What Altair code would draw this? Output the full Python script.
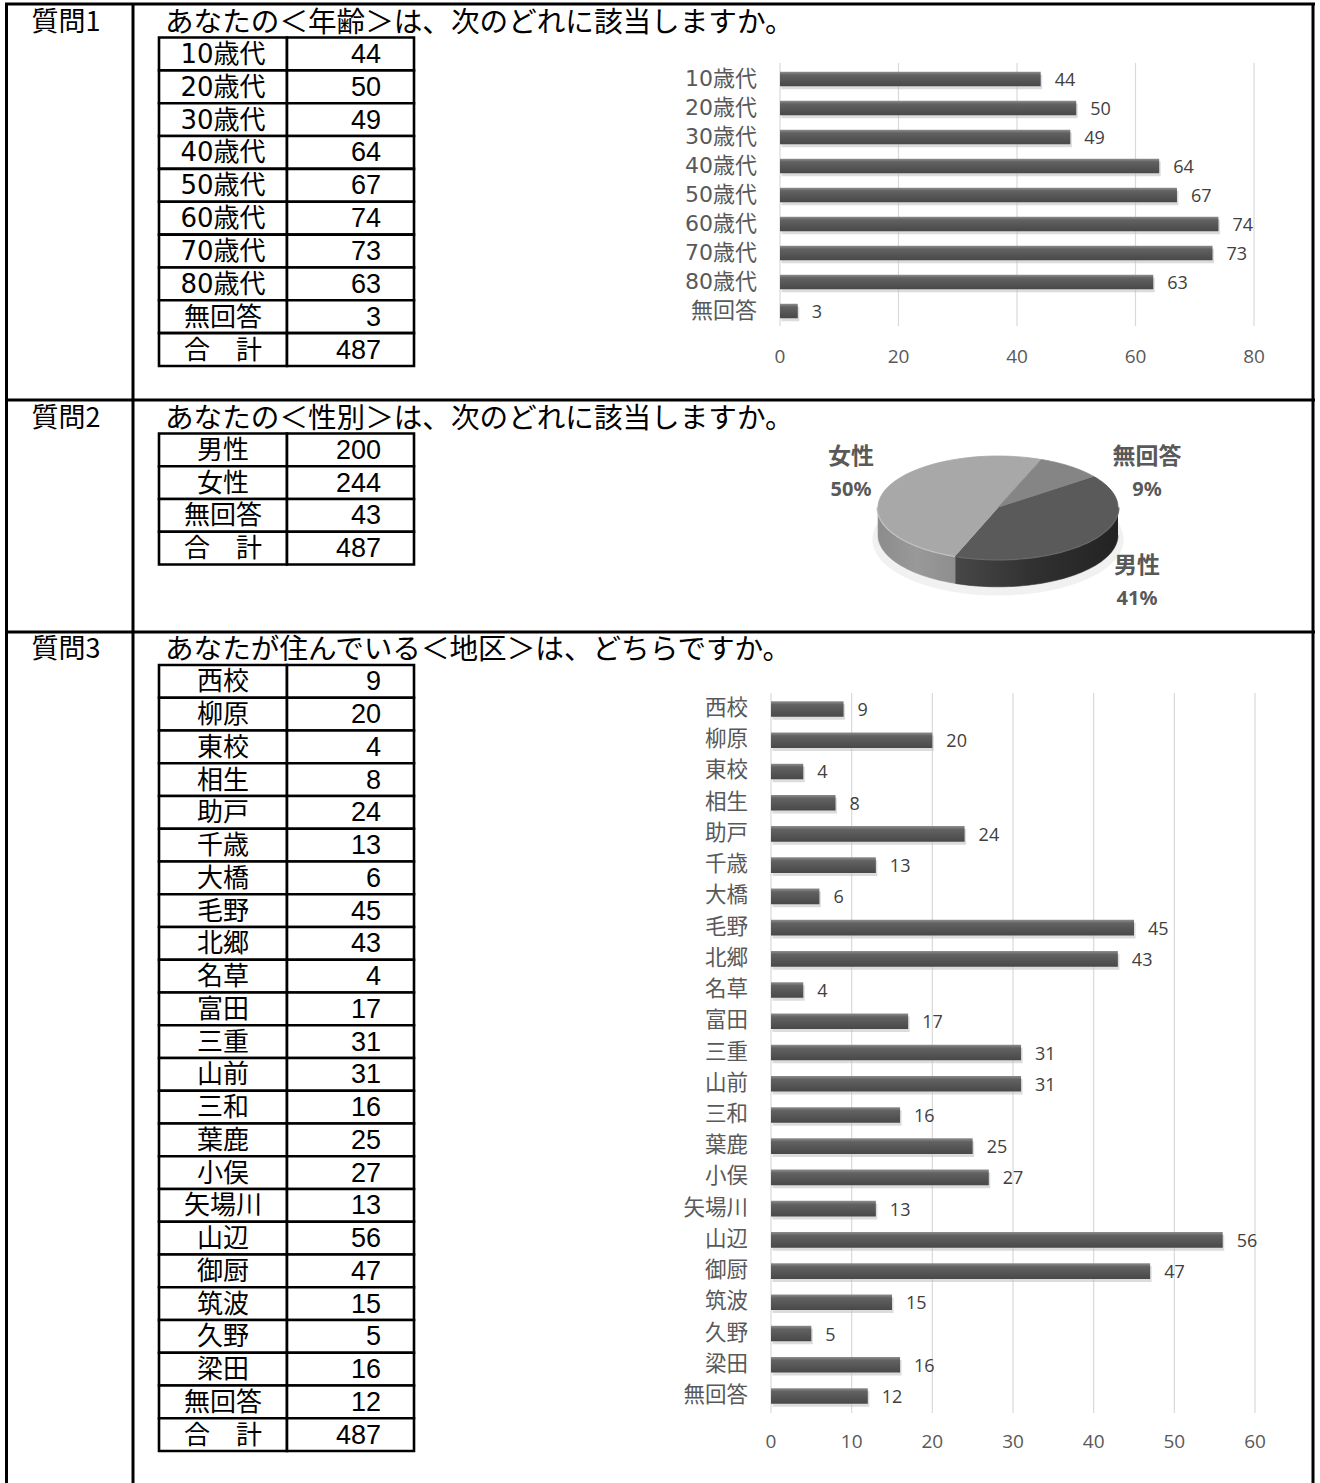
import altair as alt
import pandas as pd

# ---------------- data ----------------
question_labels = ["質問1", "質問2", "質問3"]
question_texts = [
    "あなたの＜年齢＞は、次のどれに該当しますか。",
    "あなたの＜性別＞は、次のどれに該当しますか。",
    "あなたが住んでいる＜地区＞は、どちらですか。",
]
total_label = "合　計"

age_labels = ["10歳代", "20歳代", "30歳代", "40歳代", "50歳代",
              "60歳代", "70歳代", "80歳代", "無回答"]
age_values = [44, 50, 49, 64, 67, 74, 73, 63, 3]
age_total = 487
age_ticks = [0, 20, 40, 60, 80]

sex_labels = ["男性", "女性", "無回答"]
sex_values = [200, 244, 43]
sex_total = 487

district_labels = ["西校", "柳原", "東校", "相生", "助戸", "千歳", "大橋", "毛野",
                   "北郷", "名草", "富田", "三重", "山前", "三和", "葉鹿", "小俣",
                   "矢場川", "山辺", "御厨", "筑波", "久野", "梁田", "無回答"]
district_values = [9, 20, 4, 8, 24, 13, 6, 45, 43, 4, 17, 31, 31, 16, 25, 27,
                   13, 56, 47, 15, 5, 16, 12]
district_total = 487
district_ticks = [0, 10, 20, 30, 40, 50, 60]

# ---------------- styles / layout ----------------
JP = "Noto Sans CJK JP"
LABEL_FONT = "DejaVu Sans, Noto Sans CJK JP"
NUM = "Liberation Sans, Noto Sans CJK JP"
CHART_NUM = "Open Sans, Noto Sans"
W, H = 1320, 1483
LINE = "#000000"

dummy = pd.DataFrame({"k": [0]})
layers = []


def hline(y, x0=5, x1=1315, w=3):
    return alt.Chart(dummy).mark_rule(color=LINE, strokeWidth=w).encode(
        x=alt.value(x0), x2=alt.value(x1), y=alt.value(y))


def vline(x, y0=3, y1=H, w=3):
    return alt.Chart(dummy).mark_rule(color=LINE, strokeWidth=w).encode(
        x=alt.value(x), y=alt.value(y0), y2=alt.value(y1))


# frame
for yy in [4, 400, 632]:
    layers.append(hline(yy))
for xx in [6.5, 133, 1313]:
    layers.append(vline(xx))

# question headers
section_y = [23, 419, 650]
for lab, txt, yy in zip(question_labels, question_texts, section_y):
    layers.append(alt.Chart(dummy).mark_text(
        font=JP, fontSize=27, align="center", baseline="middle", color="black"
    ).encode(x=alt.value(66), y=alt.value(yy), text=alt.value(lab)))
    layers.append(alt.Chart(dummy).mark_text(
        font=JP, fontSize=28.6, align="left", baseline="middle", color="black"
    ).encode(x=alt.value(165), y=alt.value(yy), text=alt.value(txt)))


# tables
def table(labels, values, total, yrange):
    labs = labels + [total_label]
    vals = values + [total]
    df = pd.DataFrame({"label": labs, "value": vals})
    ys = alt.Scale(type="band", domain=labs, range=yrange, paddingInner=0, paddingOuter=0)
    Y = alt.Y("label:N", scale=ys, axis=None)
    out = []
    for x0, x1 in [(159, 287), (287, 414)]:
        out.append(alt.Chart(df).mark_rect(fill="white", stroke=LINE, strokeWidth=2.6).encode(
            y=Y, x=alt.value(x0), x2=alt.value(x1)))
    out.append(alt.Chart(df).mark_text(font=LABEL_FONT, fontSize=26, align="center", baseline="middle",
                                       color="black", dy=1).encode(
        y=Y, x=alt.value(223), text="label:N"))
    out.append(alt.Chart(df).mark_text(font=NUM, fontSize=27, align="right", baseline="middle",
                                       color="black", dy=1).encode(
        y=Y, x=alt.value(381), text="value:Q"))
    return out


layers += table(age_labels, age_values, age_total, [37.5, 366])
layers += table(sex_labels, sex_values, sex_total, [433.5, 564.5])
layers += table(district_labels, district_values, district_total, [665, 1451])

# bar charts
bar_grad = alt.Gradient(
    gradient="linear",
    stops=[alt.GradientStop(offset=0, color="#8e8e8e"),
           alt.GradientStop(offset=0.22, color="#626262"),
           alt.GradientStop(offset=1, color="#484848")],
    x1=0, x2=0, y1=0, y2=1)


def bar_block(labels, values, ticks, xrange, yrange, grid_y, tick_y, label_x, cat_size):
    df = pd.DataFrame({"label": labels, "value": values})
    tdf = pd.DataFrame({"tick": ticks})
    xs = alt.Scale(domain=[ticks[0], ticks[-1]], range=xrange)
    ys = alt.Scale(type="band", domain=labels, range=yrange, paddingInner=0.5, paddingOuter=0.25)
    X = alt.X("value:Q", scale=xs, axis=None)
    Y = alt.Y("label:N", scale=ys, axis=None)
    XT = alt.X("tick:Q", scale=xs, axis=None)
    out = [
        alt.Chart(tdf).mark_rule(color="#d9d9d9", strokeWidth=1.2).encode(
            x=XT, y=alt.value(grid_y[0]), y2=alt.value(grid_y[1])),
        alt.Chart(tdf).mark_text(font=CHART_NUM, fontSize=19, color="#595959",
                                 align="center", baseline="middle").encode(
            x=XT, y=alt.value(tick_y), text="tick:Q"),
        alt.Chart(df).mark_bar(color="#bfbfbf", opacity=0.55, yOffset=3, xOffset=1.5).encode(x=X, y=Y),
        alt.Chart(df).mark_bar(fill=bar_grad).encode(x=X, y=Y),
        alt.Chart(df).mark_text(font=CHART_NUM, fontSize=18, color="#404040", align="left",
                                baseline="middle", dx=14, dy=2).encode(x=X, y=Y, text="value:Q"),
        alt.Chart(df).mark_text(font=LABEL_FONT, fontSize=cat_size, color="#595959", align="right",
                                baseline="middle").encode(x=alt.value(label_x), y=Y, text="label:N"),
    ]
    return out


layers += bar_block(age_labels, age_values, age_ticks, [780, 1254], [64.5, 325.5],
                    (63, 326), 357, 757, 22)
layers += bar_block(district_labels, district_values, district_ticks, [771, 1255],
                    [693.4, 1411.6], (693, 1413), 1442, 748, 21.5)

# 3D-look pie (ellipse drawn through x/y scales)
START = 53 * 3.141592653589793 / 180
N = 60
DEPTH = 0.54
pie_df = pd.DataFrame({"label": sex_labels, "value": sex_values, "k": list(range(len(sex_labels)))})
pxs = alt.Scale(domain=[-1, 1], range=[878, 1118])
pys = alt.Scale(domain=[-1, 1], range=[559, 456])
PX = alt.X("px:Q", scale=pxs, axis=None)
PY = alt.Y("py:Q", scale=pys, axis=None)

pie_base = alt.Chart(pie_df).transform_window(
    cum="sum(value)", sort=[alt.SortField("k", order="ascending")]
).transform_joinaggregate(total="sum(value)").transform_calculate(
    a0=f"{START} + 2*PI*(datum.cum - datum.value)/datum.total",
    a1=f"{START} + 2*PI*datum.cum/datum.total",
    pct="datum.value/datum.total",
)

# top-face sector polygons
top = pie_base.transform_calculate(t=f"sequence(0, {N + 2})").transform_flatten(["t"]).transform_calculate(
    ang=f"datum.a0 + (datum.a1 - datum.a0) * (datum.t - 1) / {N}",
    px="datum.t == 0 ? 0 : sin(datum.ang)",
    py="datum.t == 0 ? 0 : cos(datum.ang)",
)

# soft shadow under the pie
shadow = top.transform_calculate(
    px="datum.px * 1.03",
    py=f"datum.py * 1.05 - {DEPTH} - 0.08",
)
layers.append(shadow.mark_line(fill="#f1f1f1", stroke="#f1f1f1", strokeWidth=4).encode(
    x=PX, y=PY, detail="label:N", order=alt.Order("t:Q")))

# side walls (front half of each slice), as closed polygons
side = pie_base.transform_calculate(
    s="max(datum.a0, PI/2)", e="min(datum.a1, 3*PI/2)"
).transform_filter("datum.s < datum.e").transform_calculate(
    t=f"sequence(0, {2 * N + 2})"
).transform_flatten(["t"]).transform_calculate(
    u=f"datum.t <= {N} ? datum.t : {2 * N + 1} - datum.t",
    ang=f"datum.s + (datum.e - datum.s) * datum.u / {N}",
    px="sin(datum.ang)",
    py=f"cos(datum.ang) - (datum.t <= {N} ? 0 : {DEPTH})",
)
side_colors = {
    "男性": ["#474747", "#303030", "#232323"],
    "女性": ["#8c8c8c", "#999999", "#8e8e8e"],
}
for lab, cols in side_colors.items():
    g = alt.Gradient(gradient="linear",
                     stops=[alt.GradientStop(offset=0, color=cols[0]),
                            alt.GradientStop(offset=0.5, color=cols[1]),
                            alt.GradientStop(offset=1, color=cols[2])],
                     x1=0, x2=1, y1=0, y2=0)
    layers.append(side.transform_filter(alt.datum.label == lab).mark_line(
        fill=g, stroke=cols[1], strokeWidth=0.6).encode(
        x=PX, y=PY, order=alt.Order("t:Q")))

# rim highlight along the front edge of the top face
rim_colors = {"男性": "#6a6a6a", "女性": "#c4c4c4"}
rim = side.transform_filter(f"datum.t <= {N}")
for lab, col in rim_colors.items():
    layers.append(rim.transform_filter(alt.datum.label == lab).mark_line(
        stroke=col, strokeWidth=3).encode(x=PX, y=PY, order=alt.Order("t:Q")))

top_colors = {"男性": "#5a5a5a", "女性": "#a8a8a8", "無回答": "#858585"}
for lab, col in top_colors.items():
    layers.append(top.transform_filter(alt.datum.label == lab).mark_line(
        fill=col, stroke=col, strokeWidth=0.8).encode(
        x=PX, y=PY, order=alt.Order("t:Q")))

# pie labels
pie_label_pos = {"女性": (851, 457), "無回答": (1147, 457), "男性": (1137, 566)}
for lab, (lx, ly) in pie_label_pos.items():
    sel = pie_base.transform_filter(alt.datum.label == lab)
    layers.append(sel.mark_text(font=JP, fontSize=23, fontWeight="bold", color="#595959",
                                align="center", baseline="middle").encode(
        x=alt.value(lx), y=alt.value(ly), text="label:N"))
    layers.append(sel.mark_text(font="Noto Sans, Open Sans", fontSize=20, fontWeight="bold",
                                color="#595959", align="center", baseline="middle").encode(
        x=alt.value(lx), y=alt.value(ly + 33), text=alt.Text("pct:Q", format=".0%")))

chart = alt.layer(*layers).resolve_scale(
    x="independent", y="independent"
).properties(
    width=W, height=H, padding=0, autosize="none", background="white"
).configure_view(stroke=None)

chart.save("out.html", embed_options={"renderer": "svg", "actions": False})
